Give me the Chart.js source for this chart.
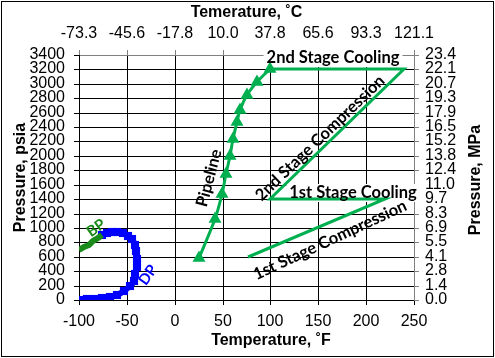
<!DOCTYPE html>
<html>
<head>
<meta charset="utf-8">
<title>Pressure vs Temperature</title>
<script src="https://cdn.jsdelivr.net/npm/chart.js@4.4.0/dist/chart.umd.min.js"></script>
<style>
  body { margin: 0; background: #fff; }
  #wrap { width: 495px; height: 358px; position: relative; }
</style>
</head>
<body>
<div id="wrap"><canvas id="chart"></canvas></div>
<script>
// values: temperature in °F, pressure in psia
const bpTemp = [-100, -95, -90, -85, -80, -76];
const bpPres = [690, 730, 770, 815, 860, 905];

const dpTemp = [-100, -92, -84, -76, -68, -60, -53, -47, -43, -41, -39.5, -39, -40, -42, -45, -49, -54, -60, -66, -71, -76];
const dpPres = [5, 12, 20, 28, 40, 70, 120, 190, 270, 360, 460, 570, 680, 770, 840, 895, 930, 948, 945, 930, 905];

const pipeTemp = [25, 42, 49, 54, 58, 61, 65, 68, 75, 86, 100];
const pipePres = [580, 1130, 1470, 1750, 2000, 2240, 2470, 2630, 2840, 3020, 3200];

// compression / cooling path
const compTemp = [77, 220, 100, 240, 100];
const compPres = [600, 1400, 1400, 3200, 3200];

const celsiusLabels = ['-73.3', '-45.6', '-17.8', '10.0', '37.8', '65.6', '93.3', '121.1'];
const mpaLabels = ['0.0', '1.4', '2.8', '4.1', '5.5', '6.9', '8.3', '9.7', '11.0', '12.4', '13.8', '15.2', '16.5', '17.9', '19.3', '20.7', '22.1', '23.4'];

const tickFont = { family: 'Liberation Sans', size: 16 };
const titleFont = { family: 'Liberation Sans', size: 16, weight: 'bold' };
const noteFont = 'bold 16.5px Lato';

const notes = [
    { text: '2nd Stage Cooling', x: 165, y: 3360, angle: 0, color: '#000', box: true },
    { text: '1st Stage Cooling', x: 186, y: 1490, angle: 0, color: '#000', box: true },
    { text: '2nd Stage Compression', x: 152, y: 2245, angle: -44, color: '#000' },
    { text: '1st Stage Compression', x: 162, y: 832, angle: -25, color: '#000' },
    { text: 'Pipeline', x: 36, y: 1690, angle: -75, color: '#000' },
    { text: 'BP', x: -82, y: 1000, angle: -35, color: '#1A8A1A', font: 'bold 15px Lato' },
    { text: 'DP', x: -28, y: 346, angle: -55, color: '#0000FF', font: 'bold 15px Lato' }
];

function pts(xs, ys) {
    return xs.map((x, i) => ({ x: x, y: ys[i] }));
}

const notesPlugin = {
    id: 'notes',
    beforeDatasetsDraw(chart) {
        const { ctx, scales } = chart;
        notes.filter(n => n.box).forEach(n => {
            ctx.save();
            ctx.font = n.font || noteFont;
            const w = ctx.measureText(n.text).width;
            ctx.translate(scales.x.getPixelForValue(n.x), scales.y.getPixelForValue(n.y));
            ctx.rotate(n.angle * Math.PI / 180);
            ctx.fillStyle = '#fff';
            ctx.fillRect(-w / 2 - 3, -9, w + 6, 18);
            ctx.restore();
        });
    },
    afterDatasetsDraw(chart) {
        const { ctx, scales } = chart;
        notes.forEach(n => {
            ctx.save();
            ctx.translate(scales.x.getPixelForValue(n.x), scales.y.getPixelForValue(n.y));
            ctx.rotate(n.angle * Math.PI / 180);
            ctx.font = n.font || noteFont;
            ctx.textAlign = 'center';
            ctx.textBaseline = 'middle';
            ctx.fillStyle = n.color;
            ctx.fillText(n.text, 0, 0);
            ctx.restore();
        });
    },
    afterDraw(chart) {
        const { ctx } = chart;
        ctx.save();
        ctx.font = 'bold 16px "Liberation Sans"';
        ctx.fillStyle = '#000';
        ctx.textAlign = 'center';
        ctx.textBaseline = 'middle';
        ctx.fillText('Temperature, \u02daF', 271, 341);
        ctx.translate(476, 180);
        ctx.rotate(-Math.PI / 2);
        ctx.fillText('Pressure, MPa', 0, 0);
        ctx.restore();
        ctx.save();
        ctx.strokeStyle = '#000';
        ctx.lineWidth = 1;
        ctx.strokeRect(1.5, 1.5, 492, 355);
        ctx.restore();
    }
};

new Chart(document.getElementById('chart'), {
    type: 'scatter',
    data: {
        datasets: [
            {
                label: 'Compression',
                data: pts(compTemp, compPres),
                showLine: true,
                borderColor: '#00B050',
                borderWidth: 3,
                pointRadius: 0,
                xAxisID: 'x',
                yAxisID: 'y'
            },
            {
                label: 'Pipeline',
                data: pts(pipeTemp, pipePres),
                showLine: true,
                tension: 0.3,
                borderColor: '#00B050',
                backgroundColor: '#00B050',
                borderWidth: 3,
                pointStyle: 'triangle',
                pointRadius: 4.5,
                xAxisID: 'x',
                yAxisID: 'y'
            },
            {
                label: 'BP',
                data: pts(bpTemp, bpPres),
                showLine: true,
                borderColor: '#1A8A1A',
                backgroundColor: '#1A8A1A',
                borderWidth: 6,
                pointRadius: 0,
                xAxisID: 'x',
                yAxisID: 'y'
            },
            {
                label: 'DP',
                data: pts(dpTemp, dpPres),
                showLine: true,
                tension: 0.4,
                borderColor: '#0000FF',
                backgroundColor: '#0000FF',
                borderWidth: 6,
                pointStyle: 'rect',
                pointRadius: 1.5,
                xAxisID: 'x',
                yAxisID: 'y'
            }
        ]
    },
    options: {
        responsive: true,
        maintainAspectRatio: false,
        animation: false,
        layout: { padding: 0 },
        plugins: {
            legend: { display: false },
            tooltip: { enabled: false }
        },
        scales: {
            x: {
                type: 'linear',
                position: 'bottom',
                min: -100,
                max: 250,
                alignToPixels: true,
                ticks: { stepSize: 50, color: '#000', font: tickFont, padding: 7, maxRotation: 0, autoSkip: false },
                grid: { color: '#000', tickColor: '#000', tickLength: 5 },
                border: { color: '#000' },
                afterFit: s => { s.height = 58; }
            },
            x2: {
                type: 'linear',
                position: 'top',
                min: -100,
                max: 250,
                alignToPixels: true,
                ticks: {
                    stepSize: 50, color: '#000', font: tickFont, padding: 7, maxRotation: 0, autoSkip: false,
                    callback: (v, i) => celsiusLabels[i]
                },
                grid: { drawOnChartArea: false, tickColor: '#808080', tickLength: 5 },
                border: { color: '#808080' },
                title: { display: true, text: 'Temerature, \u02daC', color: '#000', font: titleFont, padding: { top: 3, bottom: 0 } },
                afterFit: s => { s.height = 55; }
            },
            y: {
                type: 'linear',
                position: 'left',
                min: 0,
                max: 3400,
                alignToPixels: true,
                ticks: { stepSize: 200, color: '#000', font: tickFont, padding: 9, autoSkip: false, callback: v => String(v) },
                grid: { color: '#000', tickColor: '#000', tickLength: 5 },
                border: { color: '#000' },
                title: { display: true, text: 'Pressure, psia', color: '#000', font: titleFont, padding: { top: 11, bottom: 0 } },
                afterFit: s => { s.width = 79; }
            },
            y2: {
                type: 'linear',
                position: 'right',
                min: 0,
                max: 3400,
                alignToPixels: true,
                ticks: {
                    stepSize: 200, color: '#000', font: tickFont, padding: 6, autoSkip: false,
                    callback: (v, i) => mpaLabels[i]
                },
                grid: { drawOnChartArea: false, tickColor: '#808080', tickLength: 5 },
                border: { color: '#808080' },
                afterFit: s => { s.width = 81; }
            }
        }
    },
    plugins: [notesPlugin]
});
</script>
</body>
</html>
